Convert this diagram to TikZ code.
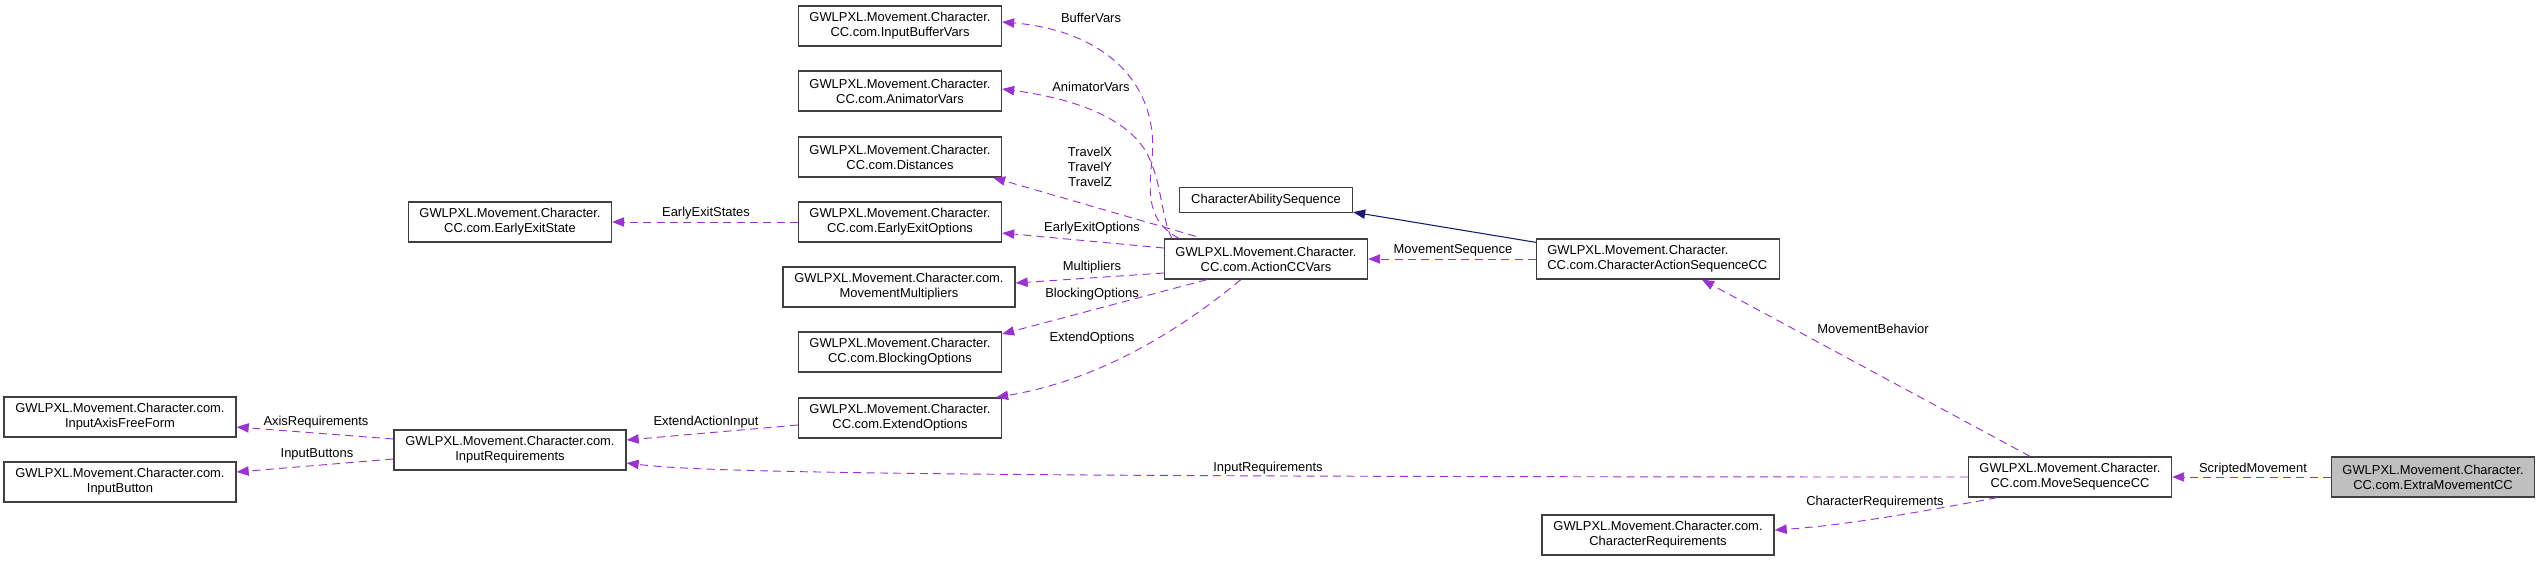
\documentclass[tikz,border=0pt]{standalone}
\usepackage{fontspec}
\setmainfont{Liberation Sans}
\usetikzlibrary{arrows.meta,calc}

\definecolor{edgepurple}{HTML}{9A32CD}
\definecolor{inhblue}{HTML}{191970}
\definecolor{boxgray}{HTML}{404040}
\definecolor{curfill}{HTML}{BFBFBF}

\begin{document}
\begin{tikzpicture}[x=0.75pt,y=-0.75pt,
  font=\fontsize{9.7}{11.25}\selectfont,
  cls/.style={draw=boxgray,line width=1pt,fill=white,align=center,inner sep=0pt,minimum height=30pt,minimum width=152.25pt},
  wcls/.style={cls,minimum width=174pt},
  mem/.style={draw=edgepurple,line width=0.7pt,dash pattern=on 6pt off 4pt,-{Triangle[length=9pt,width=7pt]}},
  inh/.style={draw=inhblue,line width=0.8pt,-{Triangle[length=9pt,width=7pt]}},
  lbl/.style={inner sep=0pt,align=center}]
\useasboundingbox (0,0) rectangle (2540,561);

% classes
\node[cls] (ibv) at (900,26) {GWLPXL.Movement.Character.\\CC.com.InputBufferVars};
\node[cls] (anv) at (900,91) {GWLPXL.Movement.Character.\\CC.com.AnimatorVars};
\node[cls] (dst) at (900,157) {GWLPXL.Movement.Character.\\CC.com.Distances};
\node[cls] (eeo) at (900,222) {GWLPXL.Movement.Character.\\CC.com.EarlyExitOptions};
\node[cls] (ees) at (510,222) {GWLPXL.Movement.Character.\\CC.com.EarlyExitState};
\node[wcls] (mmul) at (899,287) {GWLPXL.Movement.Character.com.\\MovementMultipliers};
\node[cls] (blk) at (900,352) {GWLPXL.Movement.Character.\\CC.com.BlockingOptions};
\node[cls] (ext) at (900,418) {GWLPXL.Movement.Character.\\CC.com.ExtendOptions};
\node[wcls] (iaf) at (120,417) {GWLPXL.Movement.Character.com.\\InputAxisFreeForm};
\node[wcls] (ibt) at (120,482) {GWLPXL.Movement.Character.com.\\InputButton};
\node[wcls] (ireq) at (510,450) {GWLPXL.Movement.Character.com.\\InputRequirements};
\node[cls,minimum width=129.75pt,minimum height=18.75pt] (cas) at (1266,200) {CharacterAbilitySequence};
\node[cls] (acv) at (1266,259) {GWLPXL.Movement.Character.\\CC.com.ActionCCVars};
\node[cls,minimum width=182.25pt,align=left,text width=166pt] (casc) at (1658,259) {GWLPXL.Movement.Character.\\CC.com.CharacterActionSequenceCC};
\node[wcls] (creq) at (1658,535) {GWLPXL.Movement.Character.com.\\CharacterRequirements};
\node[cls] (msc) at (2070,477) {GWLPXL.Movement.Character.\\CC.com.MoveSequenceCC};
\node[cls,fill=curfill] (emc) at (2433,477) {GWLPXL.Movement.Character.\\CC.com.ExtraMovementCC};

% members of ActionCCVars
\draw[mem] ($(acv.north west)+(15,0)$) .. controls (1148,222) and (1148,195) .. (1152,160)
  .. controls (1160,80) and (1100,30) .. ($(ibv.east)+(0,-4)$);
\draw[mem] ($(acv.north west)+(8,0)$) .. controls (1160,215) and (1162,175) .. (1143,147)
  .. controls (1120,115) and (1070,98) .. ($(anv.east)+(0,-2)$);
\draw[mem] ($(acv.north west)+(32,-2)$) -- ($(dst.south east)+(-9,0)$);
\draw[mem] ($(acv.west)+(0,-11)$) -- ($(eeo.east)+(0,11)$);
\draw[mem] ($(acv.west)+(0,14)$) -- ($(mmul.east)+(0,-4)$);
\draw[mem] ($(acv.south west)+(43,0)$) -- ($(blk.east)+(0,-18)$);
\draw[mem] ($(acv.south west)+(77,0)$) .. controls (1180,330) and (1100,380) .. ($(ext.north east)+(-6,0)$);
\node[lbl] (lbuf) at (1091,18) {BufferVars};
\node[lbl] (lani) at (1091,87) {AnimatorVars};
\node[lbl] (ltrv) at (1090,167) {TravelX\\TravelY\\TravelZ};
\node[lbl] (leeo) at (1092,228) {EarlyExitOptions};
\node[lbl] (lmul) at (1092,267) {Multipliers};
\node[lbl] (lblk) at (1092,294) {BlockingOptions};
\node[lbl] (lext) at (1092,338) {ExtendOptions};

% left part
\draw[mem] (eeo.west) -- (ees.east);
\draw[mem] ($(ext.west)+(0,7)$) -- ($(ireq.east)+(0,-10)$);
\draw[mem] ($(ireq.west)+(0,-11)$) -- ($(iaf.east)+(0,10)$);
\draw[mem] ($(ireq.west)+(0,9)$) -- ($(ibt.east)+(0,-10)$);
\node[lbl] (lees) at (706,213) {EarlyExitStates};
\node[lbl] (lein) at (706,422) {ExtendActionInput};
\node[lbl] (laxr) at (316,422) {AxisRequirements};
\node[lbl] (lbtn) at (317,454) {InputButtons};

% right part
\draw[inh] ($(casc.north west)+(0,4)$) -- ($(cas.south east)+(0,-1)$);
\draw[mem] (casc.west) -- (acv.east);
\draw[mem] ($(msc.north)+(-40,0)$) -- ($(casc.south)+(44,0)$);
\draw[mem] (msc.west) .. controls (900,477) and (700,472) .. ($(ireq.east)+(0,13)$);
\draw[mem] ($(msc.south)+(-73,0)$) .. controls (1930,510) and (1850,525) .. ($(creq.east)+(0,-5)$);
\draw[mem] (emc.west) -- (msc.east);
\node[lbl] (lmsq) at (1453,250) {MovementSequence};
\node[lbl] (lmbh) at (1873,329) {MovementBehavior};
\node[lbl] (lirq) at (1268,468) {InputRequirements};
\node[lbl] (lcrq) at (1875,502) {CharacterRequirements};
\node[lbl] (lscr) at (2253,469) {ScriptedMovement};
\end{tikzpicture}
\end{document}
